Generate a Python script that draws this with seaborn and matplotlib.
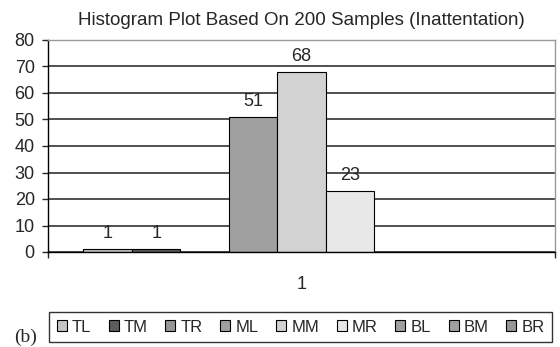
import pandas as pd
import matplotlib.pyplot as plt
import seaborn as sns

# -------------------------
# data
# -------------------------
series = ["TL", "TM", "TR", "ML", "MM", "MR", "BL", "BM", "BR"]
counts = [1, 1, 0, 51, 68, 23, 0, 0, 0]
category = ["1"] * len(series)
colors = ["#c4c4c4", "#5c5c5c", "#969696", "#a0a0a0", "#d2d2d2",
          "#e8e8e8", "#a0a0a0", "#a0a0a0", "#969696"]

df = pd.DataFrame({"cat": category, "series": series, "count": counts})

sns.set_style("white")
plt.rcParams["font.family"] = ["Liberation Sans", "DejaVu Sans"]

fig = plt.figure(figsize=(5.6, 3.47), dpi=100)
ax = fig.add_axes([48 / 560, 1 - 252 / 347, 507 / 560, 212 / 347])

sns.barplot(data=df, x="cat", y="count", hue="series", hue_order=series,
            palette=colors, width=0.86, gap=0, edgecolor="black",
            linewidth=0.8, ax=ax, legend=True)

handles, labels = ax.get_legend_handles_labels()
ax.get_legend().remove()

# value labels only for non-zero bars
for cont, v in zip(ax.containers, counts):
    if v > 0:
        ax.bar_label(cont, labels=[str(v)], padding=5, fontsize=13)

ax.set_xlim(-0.5, 0.5)
ax.set_ylim(0, 80)
ax.set_yticks(range(0, 81, 10))
ax.set_xlabel("")
ax.set_ylabel("")
ax.yaxis.grid(True, color="#202020", linewidth=1.1)
ax.set_axisbelow(True)

for s in ["left", "bottom"]:
    ax.spines[s].set_color("black")
    ax.spines[s].set_linewidth(1.0)
for s in ["top", "right"]:
    ax.spines[s].set_color("#999999")
    ax.spines[s].set_linewidth(1.0)

ax.tick_params(axis="y", direction="out", length=4.5, width=1, labelsize=13,
               left=True, pad=5)
ax.tick_params(axis="x", which="major", length=0, labelsize=13, pad=17)
ax.set_xticks([-0.5, 0.5], minor=True)
ax.tick_params(axis="x", which="minor", direction="out", length=4, width=1,
               bottom=True)

ax.set_title("Histogram Plot Based On 200 Samples (Inattentation)",
             fontsize=13.5, pad=11)

leg = fig.legend(handles, labels, loc="upper left",
                 bbox_to_anchor=(49 / 560, 1 - 312 / 347, 503 / 560, 0),
                 mode="expand", ncol=9, fontsize=12, frameon=True,
                 fancybox=False, edgecolor="black", handlelength=0.6,
                 handleheight=0.6, handletextpad=0.3, columnspacing=0.6,
                 borderaxespad=0, borderpad=0.45)
leg.get_frame().set_linewidth(1.0)
for h in leg.legend_handles:
    h.set_edgecolor("black")
    h.set_linewidth(0.8)

fig.text(14 / 560, 1 - 337 / 347, "(b)", fontsize=14,
         family=["Liberation Serif", "DejaVu Serif"], va="center")

fig.savefig("out.png", dpi=100)
